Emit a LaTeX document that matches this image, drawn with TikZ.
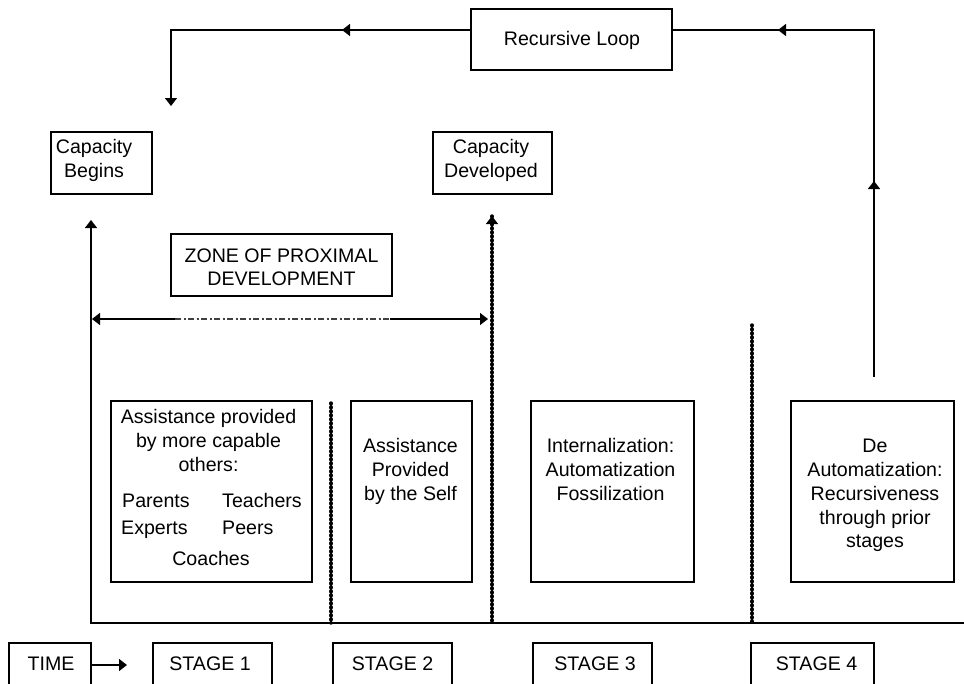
\documentclass[tikz,border=0pt]{standalone}
\usepackage{fontspec}
\setmainfont{Liberation Sans}
\usetikzlibrary{arrows.meta,decorations.markings}
\tikzset{
  tri/.tip={Triangle[width=12pt,length=8pt]},
  ln/.style={line width=1.4pt, draw=black},
  bx/.style={draw=black, line width=1.4pt, inner sep=0pt, fill=white},
  tx/.style={font=\fontsize{19.6}{24}\selectfont, inner sep=0pt, anchor=base, text=black},
  tl/.style={tx, anchor=base west},
  beads/.style={line width=1.2pt, draw=black, postaction={draw, -, line width=3.4pt, line cap=round, dash pattern=on 0.8pt off 3.2pt}},
  dashdot/.style={line width=1.2pt, draw=black!75, dash pattern=on 6pt off 2.5pt on 2pt off 2.5pt},
}
\begin{document}
\begin{tikzpicture}[x=1pt,y=-1pt]
\useasboundingbox (0,0) rectangle (964,683);
\fill[white] (0,0) rectangle (964,683);
\clip (0,0) rectangle (964,683);

% ---------- recursive loop ----------
\node[bx, minimum width=201pt, minimum height=61pt] (rl) at (571.5,39.5) {};
\node[tx] (rlt) at (572,45) {Recursive Loop};
\coordinate (rlw) at (471,30);
\coordinate (rle) at (672,30);
\coordinate (lc) at (171,30);
\coordinate (ld) at (171,106);
\coordinate (rc) at (874,30);
\coordinate (rb) at (874,377);
\draw[ln, -{tri}, postaction={decorate, decoration={markings, mark=at position 129pt with {\arrow{tri}}}}]
  (rlw) -- (lc) -- (ld);
\draw[ln, postaction={decorate, decoration={markings, mark=at position 196pt with {\arrow{tri}}, mark=at position 443pt with {\arrow{tri}}}}]
  (rb) -- (rc) -- (rle);

% ---------- capacity boxes ----------
\node[bx, minimum width=101pt, minimum height=62pt] (cb) at (101.5,163) {};
\node[tx] (cb1) at (94,153) {Capacity};
\node[tx] (cb2) at (94,177) {Begins};
\node[bx, minimum width=119pt, minimum height=62pt] (cd) at (492.5,163) {};
\node[tx] (cd1) at (491,153) {Capacity};
\node[tx] (cd2) at (491,177) {Developed};

% ---------- axis ----------
\coordinate (lvt) at (91,220);
\coordinate (lvb) at (91,623);
\coordinate (bre) at (966,623);
\draw[ln, {tri}-] (lvt) -- (lvb) -- (bre);

% ---------- dotted dividers ----------
\coordinate (d1t) at (492,216);
\coordinate (d1b) at (492,623);
\coordinate (d2t) at (331,403);
\coordinate (d2b) at (331,623);
\coordinate (d3t) at (752,325);
\coordinate (d3b) at (752,623);
\draw[beads, {tri}-] (d1t) -- (d1b);
\draw[beads] (d2t) -- (d2b);
\draw[beads] (d3t) -- (d3b);

% ---------- ZPD ----------
\node[bx, minimum width=221pt, minimum height=62pt] (zpd) at (281.5,265) {};
\node[tx] (zp1) at (281.5,262) {ZONE OF PROXIMAL};
\node[tx] (zp2) at (281.5,285) {DEVELOPMENT};
\coordinate (z1) at (92,319);
\coordinate (z2) at (175,319);
\coordinate (z3) at (390,319);
\coordinate (z4) at (488,319);
\draw[ln, {tri}-] (z1) -- (z2);
\draw[dashdot] (z2) -- (z3);
\draw[ln, -{tri}] (z3) -- (z4);

% ---------- stage content boxes ----------
\node[bx, minimum width=201pt, minimum height=181pt] (ba) at (211.5,491.5) {};
\node[tx] (a1) at (208.5,423) {Assistance provided};
\node[tx] (a2) at (208.5,447) {by more capable};
\node[tx] (a3) at (208.5,471) {others:};
\node[tl] (a4) at (122,507) {Parents};
\node[tl] (a5) at (222,507) {Teachers};
\node[tl] (a6) at (121,534) {Experts};
\node[tl] (a7) at (222,534) {Peers};
\node[tx] (a8) at (211,565) {Coaches};

\node[bx, minimum width=121pt, minimum height=181pt] (bb) at (411.5,491.5) {};
\node[tx] (b1) at (410.5,452) {Assistance};
\node[tx] (b2) at (410.5,476) {Provided};
\node[tx] (b3) at (410.5,500) {by the Self};

\node[bx, minimum width=163pt, minimum height=181pt] (bc) at (612.5,491.5) {};
\node[tx] (c1) at (610.5,452) {Internalization:};
\node[tx] (c2) at (610.5,476) {Automatization};
\node[tx] (c3) at (610.5,500) {Fossilization};

\node[bx, minimum width=163pt, minimum height=181pt] (bd) at (872.5,491.5) {};
\node[tx] (e1) at (875,452) {De};
\node[tx] (e2) at (875,476) {Automatization:};
\node[tx] (e3) at (875,500) {Recursiveness};
\node[tx] (e4) at (875,524) {through prior};
\node[tx] (e5) at (875,547) {stages};

% ---------- time row ----------
\node[bx, minimum width=82pt, minimum height=44pt] (tm) at (50,665) {};
\node[tx] (tmt) at (51,670) {TIME};
\node[bx, minimum width=119pt, minimum height=44pt] (s1) at (212.5,665) {};
\node[tx] (s1t) at (210,670) {STAGE 1};
\node[bx, minimum width=119pt, minimum height=44pt] (s2) at (392.5,665) {};
\node[tx] (s2t) at (392.5,670) {STAGE 2};
\node[bx, minimum width=119pt, minimum height=44pt] (s3) at (592.5,665) {};
\node[tx] (s3t) at (595,670) {STAGE 3};
\node[bx, minimum width=123pt, minimum height=44pt] (s4) at (812.5,665) {};
\node[tx] (s4t) at (816.5,670) {STAGE 4};
\coordinate (tarr) at (127,665);
\draw[ln, -{tri}] (tm.east) -- (tarr);
\end{tikzpicture}
\end{document}
